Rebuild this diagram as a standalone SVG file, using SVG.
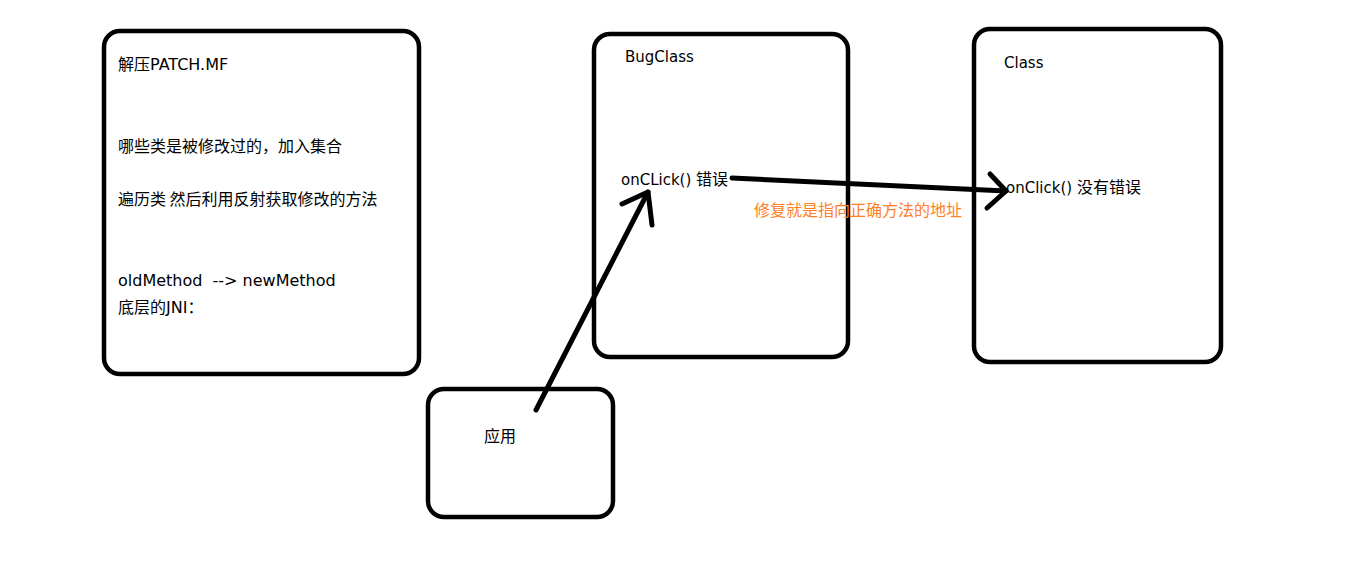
<svg xmlns="http://www.w3.org/2000/svg" width="1360" height="576" viewBox="0 0 1360 576">
<style>
.box{fill:#fff;stroke:#000;stroke-width:4.5}
.t{font-family:"DejaVu Sans","Noto Sans CJK SC",sans-serif;font-size:15px;fill:#000;white-space:pre}
.b{font-size:16px}
.c{font-family:"Noto Sans CJK SC",sans-serif;font-size:16px}
.o{fill:#ff7f27}
.ln{fill:none;stroke:#000;stroke-width:5;stroke-linecap:round;stroke-linejoin:round}
</style>
<rect width="1360" height="576" fill="#fff"/>
<g id="patch">
<rect class="box" x="104" y="31" width="315" height="343" rx="16"/>
<text class="t b" x="118" y="70"><tspan class="c">解压</tspan>PATCH.MF</text>
<text class="t c" x="118" y="152">哪些类是被修改过的，加入集合</text>
<text class="t c" x="118" y="205">遍历类 然后利用反射获取修改的方法</text>
<text class="t b" x="118" y="286">oldMethod  --&gt; newMethod</text>
<text class="t b" x="118" y="313"><tspan class="c">底层的</tspan>JNI<tspan class="c">：</tspan></text>
</g>
<g id="bugclass">
<rect class="box" x="594" y="34" width="254" height="323" rx="16"/>
<text class="t" x="625" y="62">BugClass</text>
<text class="t" x="621" y="185">onCLick() <tspan class="c">错误</tspan></text>
</g>
<g id="class">
<rect class="box" x="974" y="29" width="247" height="333" rx="16"/>
<text class="t" x="1004" y="68">Class</text>
<text class="t" x="1006" y="193">onClick() <tspan class="c">没有错误</tspan></text>
</g>
<g id="app">
<rect class="box" x="428" y="389" width="185" height="128" rx="16"/>
<text class="t c" x="484" y="442">应用</text>
</g>
<g id="connectors">
<path class="ln" d="M536,410 L648,192"/>
<path class="ln" d="M622,204 L648,192 L652,225"/>
<path class="ln" d="M732,178 L1006,191"/>
<path class="ln" d="M990,174 L1006,191 L987,208"/>
</g>
<text class="t c o" x="754" y="216">修复就是指向正确方法的地址</text>
</svg>
